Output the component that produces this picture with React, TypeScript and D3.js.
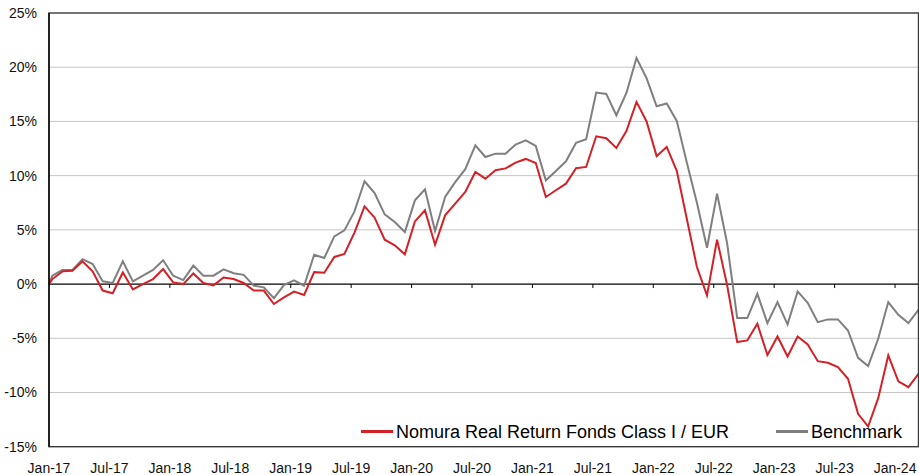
import { useEffect, useRef } from 'react';
import * as d3 from 'd3';

const tickLabels = [
  'Jan-17', 'Jul-17', 'Jan-18', 'Jul-18', 'Jan-19', 'Jul-19', 'Jan-20', 'Jul-20',
  'Jan-21', 'Jul-21', 'Jan-22', 'Jul-22', 'Jan-23', 'Jul-23', 'Jan-24',
];

const yTicks = [-15, -10, -5, 0, 5, 10, 15, 20, 25];

// cumulative performance in %, first value is the start (0), then monthly
const fundValues = [
  0,
  0.46, 1.17, 1.23, 2.1, 1.17, -0.6, -0.85, 1.07, -0.5, 0.0,
  0.46, 1.38, 0.15, 0.0, 0.98, 0.1, -0.12, 0.61, 0.46, 0.1,
  -0.6, -0.6, -1.84, -1.23, -0.7, -1.0, 1.1, 1.05, 2.5, 2.77,
  4.75, 7.17, 6.12, 4.09, 3.57, 2.74, 5.78, 6.8, 3.63, 6.34,
  7.42, 8.49, 10.34, 9.72, 10.5, 10.67, 11.2, 11.54, 11.17, 8.03,
  8.65, 9.26, 10.68, 10.8, 13.63, 13.45, 12.55, 14.12, 16.8, 15.0,
  11.8, 12.65, 10.45, 6.0, 1.57, -1.05, 4.1, -0.1, -5.35, -5.2,
  -3.66, -6.55, -4.83, -6.68, -4.83, -5.57, -7.11, -7.26, -7.66, -8.74,
  -11.97, -13.14, -10.52, -6.58, -8.98, -9.51, -8.28,
];

const benchmarkValues = [
  0,
  0.77, 1.3, 1.3, 2.3, 1.85, 0.25, 0.1, 2.1, 0.25, 0.77,
  1.3, 2.2, 0.77, 0.37, 1.7, 0.77, 0.77, 1.35, 1.0, 0.85,
  -0.15, -0.3, -1.3, -0.1, 0.35, -0.15, 2.7, 2.4, 4.4, 4.95,
  6.7, 9.48, 8.4, 6.43, 5.72, 4.8, 7.72, 8.74, 4.89, 8.03,
  9.4, 10.6, 12.8, 11.72, 12.03, 12.03, 12.86, 13.26, 12.74, 9.57,
  10.43, 11.32, 13.02, 13.35, 17.66, 17.54, 15.57, 17.63, 20.85, 19.0,
  16.4, 16.65, 15.05, 11.2, 7.5, 3.35, 8.34, 3.75, -3.14, -3.14,
  -0.9, -3.6, -1.66, -3.72, -0.68, -1.72, -3.51, -3.26, -3.26, -4.28,
  -6.8, -7.57, -5.05, -1.66, -2.83, -3.6, -2.37,
];

const seriesNames = ['Nomura Real Return Fonds Class I / EUR', 'Benchmark'];
const seriesColors = ['#d42027', '#7f7f7f'];

// months after Jan-17 for each value (monthly points sit ~10 days into the month)
const monthPos = (i: number) => (i === 0 ? 0 : 0.33 + (i - 1));

export default function App() {
  const svgRef = useRef<SVGSVGElement>(null);

  useEffect(() => {
    const width = 919;
    const height = 475;
    const margin = { top: 13, right: 0.5, bottom: 28.3, left: 49 };
    const font = '"Liberation Sans", Arial, sans-serif';

    const svg = d3.select(svgRef.current);
    svg.selectAll('*').remove();
    svg.attr('width', width).attr('height', height);

    const x = d3
      .scaleLinear()
      .domain([0, monthPos(fundValues.length - 1)])
      .range([margin.left, width - margin.right]);

    const y = d3
      .scaleLinear()
      .domain([-15, 25])
      .range([height - margin.bottom, margin.top]);

    // grid lines
    svg
      .append('g')
      .selectAll('line')
      .data(yTicks.filter(d => d !== 0 && d !== 25 && d !== -15))
      .enter()
      .append('line')
      .attr('x1', margin.left)
      .attr('x2', width - margin.right)
      .attr('y1', d => y(d))
      .attr('y2', d => y(d))
      .attr('stroke', '#c6c6c6')
      .attr('stroke-width', 1);

    // y labels
    svg
      .append('g')
      .selectAll('text')
      .data(yTicks)
      .enter()
      .append('text')
      .attr('x', 37)
      .attr('y', d => y(d) + 5)
      .attr('text-anchor', 'end')
      .style('font-family', font)
      .style('font-size', '14px')
      .style('fill', '#111')
      .text(d => `${d}%`);

    // zero line + ticks
    svg
      .append('line')
      .attr('x1', margin.left)
      .attr('x2', width - margin.right)
      .attr('y1', y(0))
      .attr('y2', y(0))
      .attr('stroke', '#000')
      .attr('stroke-width', 1.2);

    svg
      .append('g')
      .selectAll('line')
      .data(tickLabels.slice(1))
      .enter()
      .append('line')
      .attr('x1', (d, i) => x((i + 1) * 6))
      .attr('x2', (d, i) => x((i + 1) * 6))
      .attr('y1', y(0))
      .attr('y2', y(0) + 4)
      .attr('stroke', '#000')
      .attr('stroke-width', 1);

    // x labels
    svg
      .append('g')
      .selectAll('text')
      .data(tickLabels)
      .enter()
      .append('text')
      .attr('x', (d, i) => x(i * 6))
      .attr('y', 473)
      .attr('text-anchor', 'middle')
      .style('font-family', font)
      .style('font-size', '14px')
      .style('fill', '#111')
      .text(d => d);

    // series lines
    const line = d3
      .line<number>()
      .x((d, i) => x(monthPos(i)))
      .y(d => y(d));

    [benchmarkValues, fundValues].forEach((values, k) => {
      svg
        .append('path')
        .datum(values)
        .attr('fill', 'none')
        .attr('stroke', seriesColors[1 - k])
        .attr('stroke-width', 2)
        .attr('stroke-linejoin', 'miter')
        .attr('d', line);
    });

    // plot frame
    svg
      .append('rect')
      .attr('x', margin.left)
      .attr('y', margin.top)
      .attr('width', width - margin.right - margin.left)
      .attr('height', height - margin.bottom - margin.top)
      .attr('fill', 'none')
      .attr('stroke', '#3a3a3a')
      .attr('stroke-width', 1.4);

    svg
      .append('line')
      .attr('x1', margin.left)
      .attr('x2', margin.left)
      .attr('y1', margin.top)
      .attr('y2', height - margin.bottom)
      .attr('stroke', '#000')
      .attr('stroke-width', 1.4);

    // legend
    const legendX = [361, 776];
    const legend = svg
      .append('g')
      .selectAll('g')
      .data(seriesNames)
      .enter()
      .append('g')
      .attr('transform', (d, i) => `translate(${legendX[i]}, 431.5)`);

    legend
      .append('line')
      .attr('x1', 0)
      .attr('x2', 32)
      .attr('stroke', (d, i) => seriesColors[i])
      .attr('stroke-width', 3);

    legend
      .append('text')
      .attr('x', 35)
      .attr('y', 6.3)
      .style('font-family', font)
      .style('font-size', '18px')
      .style('fill', '#000')
      .text(d => d);
  }, []);

  return <svg ref={svgRef} style={{ position: 'absolute', left: 0, top: 0 }} />;
}
